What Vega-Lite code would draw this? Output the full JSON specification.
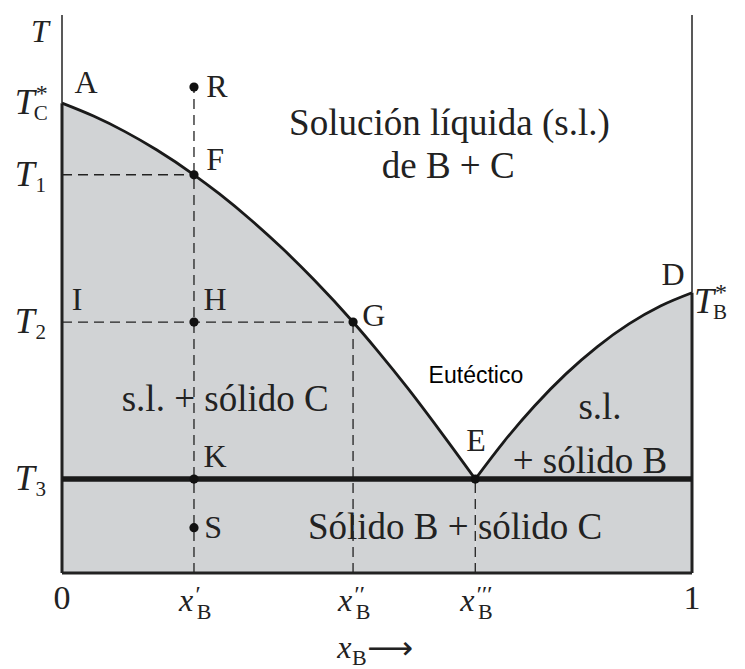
{
  "$schema": "https://vega.github.io/schema/vega-lite/v6.json",
  "width": 630,
  "height": 573,
  "autosize": {"type": "none"},
  "padding": {"left": 62, "top": 0, "right": 53, "bottom": 96},
  "background": "white",
  "config": {"view": {"stroke": null}, "text": {"font": "Liberation Serif", "color": "#222222"}},
  "datasets": {
    "curve": [
      {"x": 0, "T": 82.0, "seg": "AE"}, {"x": 0.05, "T": 79.74, "seg": "AE"}, {"x": 0.1, "T": 77.03, "seg": "AE"},
      {"x": 0.15, "T": 73.86, "seg": "AE"}, {"x": 0.2095, "T": 69.5, "seg": "AE"}, {"x": 0.25, "T": 66.15, "seg": "AE"},
      {"x": 0.3, "T": 61.61, "seg": "AE"}, {"x": 0.35, "T": 56.62, "seg": "AE"}, {"x": 0.4, "T": 51.17, "seg": "AE"},
      {"x": 0.462, "T": 43.8, "seg": "AE"}, {"x": 0.5, "T": 38.9, "seg": "AE"}, {"x": 0.55, "T": 32.08, "seg": "AE"},
      {"x": 0.6, "T": 24.81, "seg": "AE"}, {"x": 0.656, "T": 16.4, "seg": "AE"},
      {"x": 0.656, "T": 16.4, "seg": "ED"}, {"x": 0.7, "T": 22.73, "seg": "ED"}, {"x": 0.75, "T": 29.15, "seg": "ED"},
      {"x": 0.8, "T": 34.75, "seg": "ED"}, {"x": 0.85, "T": 39.52, "seg": "ED"}, {"x": 0.9, "T": 43.47, "seg": "ED"},
      {"x": 0.95, "T": 46.59, "seg": "ED"}, {"x": 1.0, "T": 48.9, "seg": "ED"}
    ],
    "thickFrame": [
      {"x": 0, "x2": 0, "T": 0, "T2": 82.0},
      {"x": 1, "x2": 1, "T": 0, "T2": 48.9},
      {"x": 0, "x2": 1, "T": 0, "T2": 0}
    ],
    "thinFrame": [
      {"x": 0, "x2": 0, "T": 82.0, "T2": 97.4},
      {"x": 1, "x2": 1, "T": 48.9, "T2": 97.4}
    ],
    "eutectic": [{"x": 0, "x2": 1, "T": 16.4, "T2": 16.4}],
    "dashed": [
      {"x": 0, "x2": 0.2095, "T": 69.5, "T2": 69.5},
      {"x": 0, "x2": 0.462, "T": 43.8, "T2": 43.8},
      {"x": 0.2095, "x2": 0.2095, "T": 0, "T2": 84.8},
      {"x": 0.462, "x2": 0.462, "T": 0, "T2": 43.8},
      {"x": 0.656, "x2": 0.656, "T": 0, "T2": 16.4}
    ],
    "points": [
      {"x": 0.2095, "T": 84.8, "name": "R"},
      {"x": 0.2095, "T": 69.5, "name": "F"},
      {"x": 0.2095, "T": 43.8, "name": "H"},
      {"x": 0.462, "T": 43.8, "name": "G"},
      {"x": 0.2095, "T": 16.4, "name": "K"},
      {"x": 0.656, "T": 16.4, "name": "E"},
      {"x": 0.2095, "T": 7.9, "name": "S"}
    ],
    "letters": [
      {"x": 0.038, "T": 85.5, "label": "A"},
      {"x": 0.246, "T": 84.8, "label": "R"},
      {"x": 0.243, "T": 72.1, "label": "F"},
      {"x": 0.024, "T": 47.6, "label": "I"},
      {"x": 0.243, "T": 47.6, "label": "H"},
      {"x": 0.495, "T": 44.9, "label": "G"},
      {"x": 0.657, "T": 23.0, "label": "E"},
      {"x": 0.243, "T": 20.2, "label": "K"},
      {"x": 0.240, "T": 7.9, "label": "S"},
      {"x": 0.970, "T": 52.0, "label": "D"}
    ],
    "regions": [
      {"x": 0.615, "T": 78.4, "label": "Solución líquida (s.l.)"},
      {"x": 0.613, "T": 70.8, "label": "de B + C"},
      {"x": 0.259, "T": 30.2, "label": "s.l. + sólido C"},
      {"x": 0.854, "T": 28.8, "label": "s.l."},
      {"x": 0.838, "T": 19.4, "label": "+ sólido B"},
      {"x": 0.624, "T": 7.9, "label": "Sólido B + sólido C"}
    ],
    "eut": [{"x": 0.657, "T": 34.4, "label": "Eutéctico"}],
    "tlabels": [
      {"x": -0.059, "T": 82.0, "sub": "C", "sup": "*"},
      {"x": -0.059, "T": 69.5, "sub": "1", "sup": ""},
      {"x": -0.059, "T": 43.8, "sub": "2", "sup": ""},
      {"x": -0.059, "T": 16.4, "sub": "3", "sup": ""},
      {"x": 1.019, "T": 47.3, "sub": "B", "sup": "*"}
    ],
    "xlabels": [
      {"x": 0.2095, "T": -4.9, "primes": "′"},
      {"x": 0.462, "T": -4.9, "primes": "′′"},
      {"x": 0.656, "T": -4.9, "primes": "′′′"}
    ],
    "ends": [
      {"x": 0, "T": -4.5, "label": "0"},
      {"x": 1, "T": -4.5, "label": "1"}
    ],
    "ytitle": [{"x": -0.035, "T": 94.4, "label": "T"}],
    "xtitle": [{"x": 0.448, "T": -13.1, "label": "x"}],
    "arrow": [{"x": 0.521, "T": -13.3, "label": "⟶"}]
  },
  "encoding": {
    "x": {"field": "x", "type": "quantitative", "scale": {"domain": [0, 1], "nice": false, "zero": false}, "axis": null},
    "y": {"field": "T", "type": "quantitative", "stack": null, "scale": {"domain": [0, 100], "nice": false, "zero": false}, "axis": null}
  },
  "layer": [
    {
      "data": {"name": "curve"},
      "mark": {"type": "area", "color": "#d1d3d5", "opacity": 1, "interpolate": "monotone"},
      "encoding": {"y2": {"datum": 0}, "detail": {"field": "seg"}}
    },
    {
      "data": {"name": "dashed"},
      "mark": {"type": "rule", "color": "#222222", "strokeWidth": 1.3, "strokeDash": [10, 6]},
      "encoding": {"x2": {"field": "x2"}, "y2": {"field": "T2"}}
    },
    {
      "data": {"name": "thinFrame"},
      "mark": {"type": "rule", "color": "#222222", "strokeWidth": 1.5},
      "encoding": {"x2": {"field": "x2"}, "y2": {"field": "T2"}}
    },
    {
      "data": {"name": "thickFrame"},
      "mark": {"type": "rule", "color": "#222222", "strokeWidth": 3},
      "encoding": {"x2": {"field": "x2"}, "y2": {"field": "T2"}}
    },
    {
      "data": {"name": "eutectic"},
      "mark": {"type": "rule", "color": "#1a1a1a", "strokeWidth": 5.5},
      "encoding": {"x2": {"field": "x2"}, "y2": {"field": "T2"}}
    },
    {
      "data": {"name": "curve"},
      "mark": {"type": "line", "color": "#1a1a1a", "strokeWidth": 2.8, "interpolate": "monotone"},
      "encoding": {"detail": {"field": "seg"}}
    },
    {
      "data": {"name": "points"},
      "mark": {"type": "circle", "color": "#111111", "opacity": 1, "size": 85},
      "encoding": {}
    },
    {
      "data": {"name": "letters"},
      "mark": {"type": "text", "fontSize": 32, "align": "center", "baseline": "middle"},
      "encoding": {"text": {"field": "label"}}
    },
    {
      "data": {"name": "regions"},
      "mark": {"type": "text", "fontSize": 37, "align": "center", "baseline": "middle"},
      "encoding": {"text": {"field": "label"}}
    },
    {
      "data": {"name": "eut"},
      "mark": {"type": "text", "font": "Liberation Sans", "fontSize": 23, "align": "center", "baseline": "middle", "color": "#000000"},
      "encoding": {"text": {"field": "label"}}
    },
    {
      "data": {"name": "tlabels"},
      "mark": {"type": "text", "fontSize": 36, "fontStyle": "italic", "align": "center", "baseline": "middle"},
      "encoding": {"text": {"value": "T"}}
    },
    {
      "data": {"name": "tlabels"},
      "mark": {"type": "text", "fontSize": 21, "align": "center", "baseline": "middle", "dx": 16, "dy": 11},
      "encoding": {"text": {"field": "sub"}}
    },
    {
      "data": {"name": "tlabels"},
      "mark": {"type": "text", "fontSize": 24, "align": "center", "baseline": "middle", "dx": 17, "dy": -9},
      "encoding": {"text": {"field": "sup"}}
    },
    {
      "data": {"name": "xlabels"},
      "mark": {"type": "text", "fontSize": 32, "fontStyle": "italic", "align": "center", "baseline": "middle", "dx": -8},
      "encoding": {"text": {"value": "x"}}
    },
    {
      "data": {"name": "xlabels"},
      "mark": {"type": "text", "fontSize": 22, "align": "center", "baseline": "middle", "dx": 10, "dy": 11},
      "encoding": {"text": {"value": "B"}}
    },
    {
      "data": {"name": "xlabels"},
      "mark": {"type": "text", "fontSize": 24, "fontStyle": "italic", "align": "left", "baseline": "middle", "dx": 0, "dy": -6},
      "encoding": {"text": {"field": "primes"}}
    },
    {
      "data": {"name": "ends"},
      "mark": {"type": "text", "fontSize": 34, "align": "center", "baseline": "middle"},
      "encoding": {"text": {"field": "label"}}
    },
    {
      "data": {"name": "ytitle"},
      "mark": {"type": "text", "fontSize": 32, "fontStyle": "italic", "align": "center", "baseline": "middle"},
      "encoding": {"text": {"field": "label"}}
    },
    {
      "data": {"name": "xtitle"},
      "mark": {"type": "text", "fontSize": 32, "fontStyle": "italic", "align": "center", "baseline": "middle"},
      "encoding": {"text": {"field": "label"}}
    },
    {
      "data": {"name": "xtitle"},
      "mark": {"type": "text", "fontSize": 22, "align": "center", "baseline": "middle", "dx": 15, "dy": 10},
      "encoding": {"text": {"value": "B"}}
    },
    {
      "data": {"name": "arrow"},
      "mark": {"type": "text", "font": "DejaVu Sans", "fontSize": 32, "align": "center", "baseline": "middle"},
      "encoding": {"text": {"field": "label"}}
    }
  ]
}
